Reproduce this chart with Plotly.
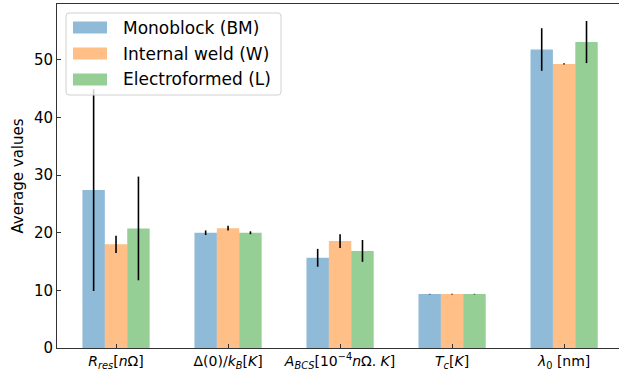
import plotly.graph_objects as go

categories = [
    "<i>R</i><sub><i>res</i></sub>[<i>n</i>Ω]",
    "Δ(0)/<i>k</i><sub><i>B</i></sub>[<i>K</i>]",
    "<i>A</i><sub><i>BCS</i></sub>[10<sup>−4</sup><i>n</i>Ω. <i>K</i>]",
    "<i>T</i><sub><i>c</i></sub>[<i>K</i>]",
    "<i>λ</i><sub>0</sub> [nm]",
]
series_names = ["Monoblock (BM)", "Internal weld (W)", "Electroformed (L)"]
bm_values = [27.4, 20.0, 15.65, 9.35, 51.8]
bm_errors = [17.5, 0.4, 1.55, 0.05, 3.7]
w_values = [18.0, 20.8, 18.55, 9.35, 49.3]
w_errors = [1.5, 0.4, 1.2, 0.05, 0.1]
l_values = [20.75, 20.0, 16.85, 9.35, 53.1]
l_errors = [9.0, 0.25, 1.9, 0.05, 3.65]
colors = ["rgba(31,119,180,0.5)", "rgba(255,127,14,0.5)", "rgba(44,160,44,0.5)"]
y_ticks = [0, 10, 20, 30, 40, 50]

W, H = 619, 374
L_M, R_M, T_M, B_M = 57, 0, 4, 26
PW, PH = W - L_M - R_M, H - T_M - B_M


def px(x):
    return (x - L_M) / PW


def py(y):
    return (H - B_M - y) / PH


fig = go.Figure()
for name, vals, errs, col in zip(series_names, [bm_values, w_values, l_values],
                                 [bm_errors, w_errors, l_errors], colors):
    fig.add_trace(go.Bar(
        x=categories, y=vals, name=name, showlegend=False,
        marker=dict(color=col, line=dict(width=0)),
        error_y=dict(type="data", array=errs, visible=True, color="black",
                     thickness=1.6, width=0),
    ))

# custom legend (matplotlib style)
shapes = []
annotations = []
x0, x1, y0, y1, r = 66, 281, 13, 95, 3
path = (f"M {px(x0 + r)} {py(y0)} L {px(x1 - r)} {py(y0)} "
        f"Q {px(x1)} {py(y0)} {px(x1)} {py(y0 + r)} L {px(x1)} {py(y1 - r)} "
        f"Q {px(x1)} {py(y1)} {px(x1 - r)} {py(y1)} L {px(x0 + r)} {py(y1)} "
        f"Q {px(x0)} {py(y1)} {px(x0)} {py(y1 - r)} L {px(x0)} {py(y0 + r)} "
        f"Q {px(x0)} {py(y0)} {px(x0 + r)} {py(y0)} Z")
shapes.append(dict(type="path", xref="paper", yref="paper", path=path,
                   line=dict(color="#d0d0d0", width=1),
                   fillcolor="rgba(255,255,255,0.8)", layer="above"))
for i, (name, col) in enumerate(zip(series_names, colors)):
    cy = 27.5 + i * 26
    shapes.append(dict(type="rect", xref="paper", yref="paper",
                       x0=px(73), x1=px(107), y0=py(cy - 6), y1=py(cy + 6),
                       fillcolor=col, line=dict(width=0), layer="above"))
    annotations.append(dict(xref="paper", yref="paper", x=px(121), y=py(cy),
                            xanchor="left", yanchor="middle", showarrow=False,
                            text=name, font=dict(size=17, color="black")))

axis_common = dict(showline=True, linecolor="#333", linewidth=1, mirror=True,
                   ticks="inside", ticklen=4, tickcolor="#333", showgrid=False,
                   zeroline=False)
fig.update_layout(
    width=W, height=H,
    margin=dict(l=L_M, r=R_M, t=T_M, b=B_M),
    paper_bgcolor="white", plot_bgcolor="white",
    barmode="group", bargap=0.4, bargroupgap=0,
    font=dict(family="DejaVu Sans", size=15, color="black"),
    xaxis=dict(range=[-0.527, 4.49], tickfont=dict(size=14), **axis_common),
    yaxis=dict(range=[0, 59.7], tickvals=y_ticks, tickfont=dict(size=15),
               title=dict(text="Average values", font=dict(size=15), standoff=6),
               **axis_common),
    shapes=shapes, annotations=annotations,
)
fig.write_html("out.html")
